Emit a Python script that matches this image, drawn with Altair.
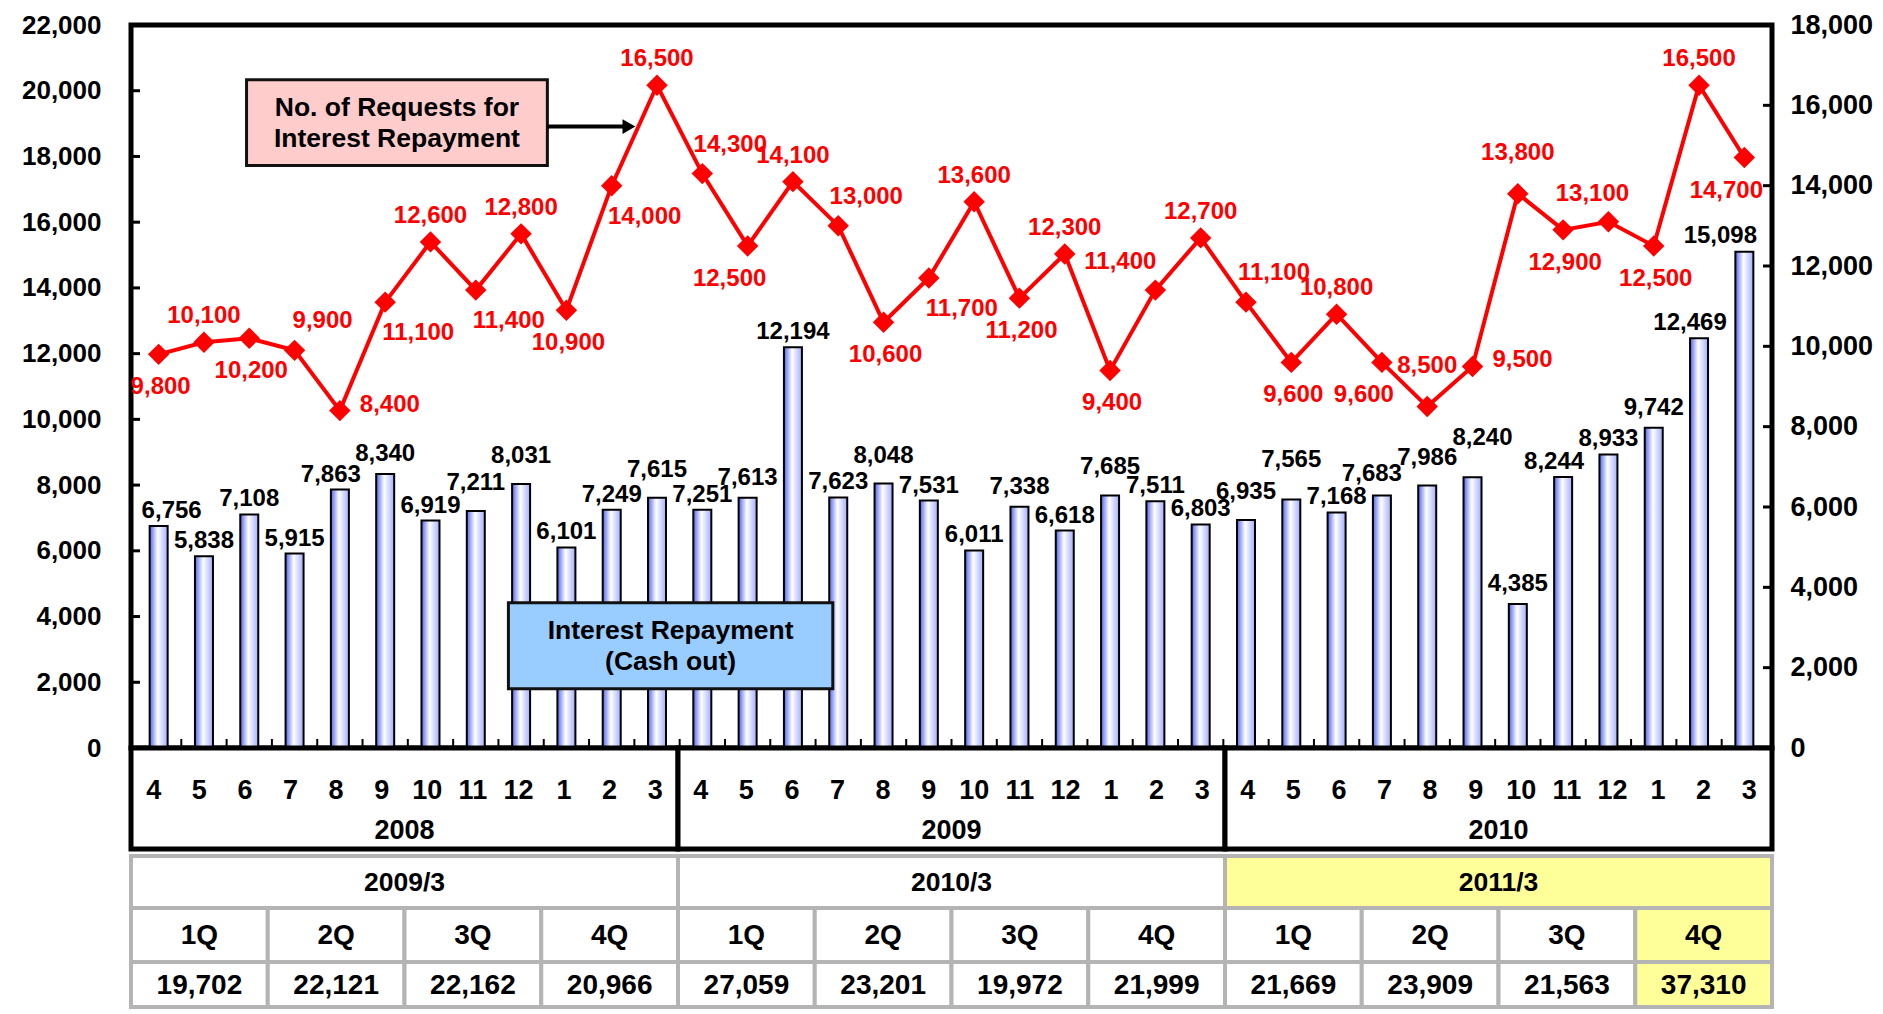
import altair as alt
import pandas as pd

# ---------------- data ----------------
month_numbers = [4, 5, 6, 7, 8, 9, 10, 11, 12, 1, 2, 3]
calendar_years = ["2008", "2009", "2010"]
cash_out = [6756, 5838, 7108, 5915, 7863, 8340, 6919, 7211, 8031, 6101, 7249, 7615,
            7251, 7613, 12194, 7623, 8048, 7531, 6011, 7338, 6618, 7685, 7511, 6803,
            6935, 7565, 7168, 7683, 7986, 8240, 4385, 8244, 8933, 9742, 12469, 15098]
cash_label_place = ["r", "n", "n", "n", "l", "u1", "n", "u2", "u2", "n", "n", "u2",
                    "n", "u1", "n", "n", "u2", "n", "n", "u1", "n", "u2", "n", "n",
                    "u2", "u3", "n", "lu", "u2", "ru3", "u1", "l", "n", "u1", "l", "ll"]
requests = [9800, 10100, 10200, 9900, 8400, 11100, 12600, 11400, 12800, 10900, 14000, 16500,
            14300, 12500, 14100, 13000, 10600, 11700, 13600, 11200, 12300, 9400, 11400, 12700,
            11100, 9600, 10800, 9600, 8500, 9500, 13800, 12900, 13100, 12500, 16500, 14700]
request_label_place = ["b", "a", "b", "ar", "r", "br", "a", "br", "a", "b", "br", "a",
                       "ar", "bl", "a", "ar", "b", "br", "a", "b", "a", "b", "al", "a",
                       "ar", "b", "a", "bl", "a3", "r", "a3", "b", "al2", "b", "a", "bl"]
fiscal_years = ["2009/3", "2010/3", "2011/3"]
quarter_names = ["1Q", "2Q", "3Q", "4Q"]
quarter_totals = [19702, 22121, 22162, 20966, 27059, 23201, 19972, 21999,
                  21669, 23909, 21563, 37310]
highlight_fy = "2011/3"
highlight_quarter_index = 11
requests_box_text = "No. of Requests for\nInterest Repayment"
cash_box_text = "Interest Repayment\n(Cash out)"
left_ticks = list(range(0, 22001, 2000))
right_ticks = list(range(0, 18001, 2000))

# ---------------- styling ----------------
FONT = "Liberation Sans"
W = 1641
H = 723
RED = "#ff0000"

n = len(cash_out)
df = pd.DataFrame({
    "i": range(n),
    "month": [str(m) for m in month_numbers * len(calendar_years)],
    "cash": cash_out,
    "cplace": cash_label_place,
    "req": requests,
    "place": request_label_place,
})
df["x"] = df["i"] + 0.5
df["cash_label"] = df["cash"].map("{:,}".format)
df["req_label"] = df["req"].map("{:,}".format)

xscale = alt.Scale(domain=[0, n], nice=False, zero=False)
X = alt.X("x:Q", scale=xscale, axis=None)
left_scale = alt.Scale(domain=[0, 22000], nice=False)
right_scale = alt.Scale(domain=[0, 18000], nice=False)

left_axis = alt.Axis(orient="left", values=left_ticks, format=",.0f", labelFont=FONT,
                     labelFontSize=26, labelFontWeight="bold", labelColor="black",
                     tickSize=0, domain=False, grid=False, labelPadding=30,
                     labelFlush=False, title=None)
right_axis = alt.Axis(orient="right", values=right_ticks, format=",.0f", labelFont=FONT,
                      labelFontSize=27, labelFontWeight="bold", labelColor="black",
                      tickSize=0, domain=False, grid=False, labelPadding=18,
                      labelFlush=False, title=None)

gradient = alt.Gradient(
    gradient="linear",
    stops=[alt.GradientStop(color="#5165ee", offset=0),
           alt.GradientStop(color="#ffffff", offset=0.45),
           alt.GradientStop(color="#a3aeff", offset=1)],
    x1=0, x2=1, y1=0, y2=0)

base = alt.Chart(df)

bars = base.mark_bar(size=18, fill=gradient, stroke="black", strokeWidth=2).encode(
    x=X, y=alt.Y("cash:Q", scale=left_scale, axis=left_axis))

cash_offsets = {"n": (0, -3), "r": (13, -3), "l": (-9, -3), "ll": (-24, -4),
                "u1": (0, -8), "u2": (0, -16), "u3": (0, -27), "lu": (-10, -10),
                "ru3": (10, -27)}
bar_texts = []
for code, (ddx, ddy) in cash_offsets.items():
    bar_texts.append(
        base.transform_filter(alt.datum.cplace == code).mark_text(
            font=FONT, fontSize=24, fontWeight="bold", color="black",
            baseline="bottom", align="center", dx=ddx, dy=ddy).encode(
            x=X, y=alt.Y("cash:Q", scale=left_scale, axis=left_axis), text="cash_label:N"))

lt_df = pd.DataFrame({"v": left_ticks[1:-1]})
left_tick_marks = alt.Chart(lt_df).mark_rule(color="black", strokeWidth=3).encode(
    y=alt.Y("v:Q", scale=left_scale, axis=left_axis), x=alt.value(0), x2=alt.value(9))

xt_df = pd.DataFrame({"b": list(range(1, n))})
x_tick_marks = alt.Chart(xt_df).mark_rule(color="black", strokeWidth=2).encode(
    x=alt.X("b:Q", scale=xscale, axis=None), y=alt.value(H - 9), y2=alt.value(H))

cash_box_df = pd.DataFrame({"x1": [8.22], "x2": [15.38], "y1": [1800], "y2": [4420],
                            "xc": [11.80], "yc": [3110], "t": [cash_box_text]})
cash_box = alt.Chart(cash_box_df).mark_rect(fill="#99ccff", stroke="#111111", strokeWidth=3).encode(
    x=alt.X("x1:Q", scale=xscale, axis=None), x2="x2:Q",
    y=alt.Y("y1:Q", scale=left_scale, axis=left_axis), y2="y2:Q")
cash_box_label = alt.Chart(cash_box_df).mark_text(
    font=FONT, fontSize=26.5, fontWeight="bold", color="black", lineBreak="\n",
    lineHeight=31, baseline="middle", align="center", dy=-15).encode(
    x=alt.X("xc:Q", scale=xscale, axis=None),
    y=alt.Y("yc:Q", scale=left_scale, axis=left_axis), text="t:N")

left_layer = alt.layer(x_tick_marks, bars, *bar_texts, left_tick_marks, cash_box, cash_box_label)

# right (requests) layers
line = base.mark_line(color=RED, strokeWidth=4).encode(
    x=X, y=alt.Y("req:Q", scale=right_scale, axis=right_axis))
points = base.mark_point(shape="diamond", filled=True, size=460, color=RED, opacity=1).encode(
    x=X, y=alt.Y("req:Q", scale=right_scale, axis=right_axis))

place_offsets = {"a": (0, -26), "b": (2, 33), "ar": (28, -29), "br": (33, 31),
                 "bl": (-18, 33), "al": (-35, -28), "al2": (-16, -28),
                 "r": (50, -6), "a3": (0, -41)}
req_labels = []
for code, (ddx, ddy) in place_offsets.items():
    req_labels.append(
        base.transform_filter(alt.datum.place == code).mark_text(
            font=FONT, fontSize=24, fontWeight="bold", color=RED,
            baseline="middle", align="center", dx=ddx, dy=ddy).encode(
            x=X, y=alt.Y("req:Q", scale=right_scale, axis=right_axis), text="req_label:N"))

rt_df = pd.DataFrame({"v": right_ticks[1:-1]})
right_tick_marks = alt.Chart(rt_df).mark_rule(color="black", strokeWidth=3).encode(
    y=alt.Y("v:Q", scale=right_scale, axis=right_axis), x=alt.value(W - 9), x2=alt.value(W))

req_box_df = pd.DataFrame({"x1": [2.44], "x2": [9.08], "y1": [14500], "y2": [16640],
                           "xc": [5.76], "yc": [15570], "t": [requests_box_text],
                           "ax1": [9.08], "ax2": [10.75], "ay": [15470], "hx": [10.88]})
req_box = alt.Chart(req_box_df).mark_rect(fill="#ffcccc", stroke="#111111", strokeWidth=3).encode(
    x=alt.X("x1:Q", scale=xscale, axis=None), x2="x2:Q",
    y=alt.Y("y1:Q", scale=right_scale, axis=right_axis), y2="y2:Q")
req_box_label = alt.Chart(req_box_df).mark_text(
    font=FONT, fontSize=26.5, fontWeight="bold", color="black", lineBreak="\n",
    lineHeight=31, baseline="middle", align="center", dy=-15).encode(
    x=alt.X("xc:Q", scale=xscale, axis=None),
    y=alt.Y("yc:Q", scale=right_scale, axis=right_axis), text="t:N")
arrow = alt.Chart(req_box_df).mark_rule(color="black", strokeWidth=4).encode(
    x=alt.X("ax1:Q", scale=xscale, axis=None), x2="ax2:Q",
    y=alt.Y("ay:Q", scale=right_scale, axis=right_axis))
arrow_head = alt.Chart(req_box_df).mark_point(shape="triangle-right", filled=True, size=220,
                                              color="black", opacity=1).encode(
    x=alt.X("hx:Q", scale=xscale, axis=None),
    y=alt.Y("ay:Q", scale=right_scale, axis=right_axis))

right_layer = alt.layer(right_tick_marks, line, points, *req_labels, req_box, req_box_label,
                        arrow, arrow_head)

main = alt.layer(left_layer, right_layer).resolve_scale(y="independent").properties(
    width=W, height=H, view=alt.ViewBackground(stroke="black", strokeWidth=5))

# ---------------- month / year boxes ----------------
HB = 106
years_df = pd.DataFrame({"year": calendar_years,
                         "start": [12 * k for k in range(len(calendar_years))],
                         "end": [12 * (k + 1) for k in range(len(calendar_years))]})
years_df["mid"] = (years_df["start"] + years_df["end"]) / 2
year_boxes = alt.Chart(years_df).mark_rect(fill="white", stroke="black", strokeWidth=5).encode(
    x=alt.X("start:Q", scale=xscale, axis=None), x2="end:Q",
    y=alt.value(0), y2=alt.value(101))
year_text = alt.Chart(years_df).mark_text(font=FONT, fontSize=27, fontWeight="bold",
                                          color="black", baseline="middle").encode(
    x=alt.X("mid:Q", scale=xscale, axis=None), y=alt.value(83), text="year:N")
month_text = base.mark_text(font=FONT, fontSize=27, fontWeight="bold", color="black",
                            baseline="middle").encode(
    x=X, y=alt.value(43), text="month:N")
boxes = alt.layer(year_boxes, year_text, month_text).properties(
    width=W, height=HB, view=alt.ViewBackground(stroke=None))

# ---------------- table ----------------
HC = 155
ROW = 52
GREY = "#b4b4b4"
YELLOW = "#ffff99"
fy_df = pd.DataFrame({"fy": fiscal_years,
                      "start": [12 * k for k in range(len(fiscal_years))],
                      "end": [12 * (k + 1) for k in range(len(fiscal_years))]})
fy_df["mid"] = (fy_df["start"] + fy_df["end"]) / 2
fy_df["hl"] = fy_df["fy"] == highlight_fy
q_df = pd.DataFrame({"q": quarter_names * len(fiscal_years),
                     "val": ["{:,}".format(v) for v in quarter_totals],
                     "start": [3 * k for k in range(len(quarter_totals))],
                     "end": [3 * (k + 1) for k in range(len(quarter_totals))]})
q_df["mid"] = (q_df["start"] + q_df["end"]) / 2
q_df["hl"] = [k == highlight_quarter_index for k in range(len(quarter_totals))]

fill_cond = alt.condition("datum.hl", alt.value(YELLOW), alt.value("white"))


def cell_rows(data, top, bottom, text_field, font_size):
    rect = alt.Chart(data).mark_rect(stroke=GREY, strokeWidth=4).encode(
        x=alt.X("start:Q", scale=xscale, axis=None), x2="end:Q",
        y=alt.value(top), y2=alt.value(bottom), fill=fill_cond)
    txt = alt.Chart(data).mark_text(font=FONT, fontSize=font_size, fontWeight="bold",
                                    color="black", baseline="middle").encode(
        x=alt.X("mid:Q", scale=xscale, axis=None),
        y=alt.value((top + bottom) / 2 + 1), text=f"{text_field}:N")
    return [rect, txt]


table = alt.layer(
    *cell_rows(fy_df, 2, ROW + 2, "fy", 26.5),
    *cell_rows(q_df, ROW + 2, 2 * ROW + 4, "q", 28),
    *cell_rows(q_df, 2 * ROW + 4, HC - 2, "val", 28),
).properties(width=W, height=HC, view=alt.ViewBackground(stroke=None))

chart = alt.vconcat(main, boxes, table, spacing=0, bounds="flush").properties(
    padding={"left": 18, "top": 8, "right": 5, "bottom": 0}
).configure_view(stroke=None)

chart.save("out.html", embed_options={"renderer": "svg", "actions": False})
